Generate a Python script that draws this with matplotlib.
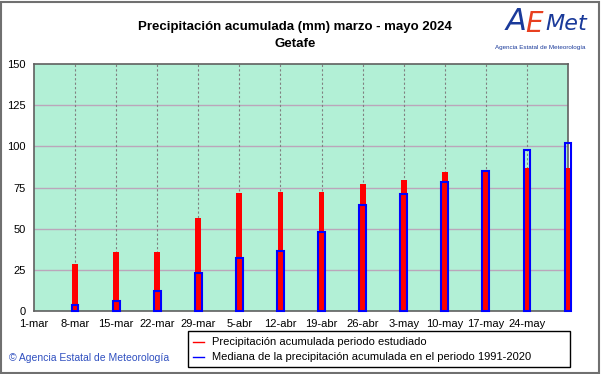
import matplotlib
matplotlib.use("Agg")
import matplotlib.pyplot as plt
from matplotlib.patches import Rectangle
import numpy as np

plt.rcParams['font.family'] = ['Liberation Sans', 'DejaVu Sans']

# Data
days = [7, 14, 21, 28, 35, 42, 49, 56, 63, 70, 77, 84, 91]  # days since 1-mar
precip = [28.4, 36.0, 36.0, 56.5, 71.5, 72.0, 72.0, 77.1, 79.5, 84.2, 85.0, 86.6, 86.6]
median = [3.8, 6.3, 12.3, 22.9, 32.4, 36.6, 48.2, 64.4, 71.0, 78.5, 84.8, 97.8, 102.0]
tick_days = [0, 7, 14, 21, 28, 35, 42, 49, 56, 63, 70, 77, 84]
tick_labels = ['1-mar', '8-mar', '15-mar', '22-mar', '29-mar', '5-abr', '12-abr',
               '19-abr', '26-abr', '3-may', '10-may', '17-may', '24-may']
yticks = [0, 25, 50, 75, 100, 125, 150]

W, H = 601, 374
fig = plt.figure(figsize=(W / 100, H / 100), dpi=100)
fig.patch.set_facecolor('white')

ax = fig.add_axes([34 / W, (H - 311) / H, (568 - 34) / W, (311 - 64) / H])
ax.set_facecolor('#b2f0d6')
ax.set_xlim(0, 91)
ax.set_ylim(0, 150)

red = ax.bar(days, precip, width=1.0, color='#ff0000', edgecolor='none', zorder=3)
blue = ax.bar(days, median, width=1.15, facecolor='none', edgecolor='#0000ff', linewidth=1.5, zorder=4)
for p in list(red) + list(blue):
    p.set_clip_on(False)

ax.set_yticks(yticks)
ax.set_xticks(tick_days)
ax.set_xticklabels(tick_labels)
ax.tick_params(axis='x', length=0, labelsize=8, colors='black', pad=6)
ax.tick_params(axis='y', length=0, labelsize=8, colors='black', pad=6)

for y in yticks[1:-1]:
    ax.axhline(y, color='#bba6bb', linewidth=1.0, zorder=1)
for d in tick_days[1:]:
    ax.axvline(d, color='#808080', linewidth=0.8, linestyle=(0, (2, 2)), zorder=1)

for s in ax.spines.values():
    s.set_color('#606060')
    s.set_linewidth(1.2)

# Title
fig.text(295 / W, 1 - 27 / H, 'Precipitación acumulada (mm) marzo - mayo 2024',
         ha='center', va='center', fontsize=9.5, fontweight='bold')
fig.text(295 / W, 1 - 44 / H, 'Getafe', ha='center', va='center', fontsize=9.5, fontweight='bold')

# Logo approximation
fig.text(516 / W, 1 - 22 / H, 'A', ha='center', va='center', fontsize=22,
         color='#1a3a9a', style='italic', family='DejaVu Sans')
fig.text(534 / W, 1 - 24 / H, 'E', ha='center', va='center', fontsize=20,
         color='#e84020', style='italic', family='DejaVu Sans')
fig.text(566 / W, 1 - 24 / H, 'Met', ha='center', va='center', fontsize=16,
         color='#1a3a9a', style='italic', family='DejaVu Sans')
fig.text(540 / W, 1 - 48 / H, 'Agencia Estatal de Meteorología', ha='center', va='center',
         fontsize=4.5, color='#1a3a9a')

# Legend box
lx0, lx1, ly0, ly1 = 188, 570, 331, 367
fig.patches.append(Rectangle((lx0 / W, 1 - ly1 / H), (lx1 - lx0) / W, (ly1 - ly0) / H,
                             transform=fig.transFigure, facecolor='white',
                             edgecolor='black', linewidth=1.0))
fig.lines.append(plt.Line2D([193 / W, 204 / W], [1 - 342 / H] * 2, color='#ff0000',
                            linewidth=1.0, transform=fig.transFigure))
fig.lines.append(plt.Line2D([193 / W, 204 / W], [1 - 357 / H] * 2, color='#0000ff',
                            linewidth=1.0, transform=fig.transFigure))
fig.text(212 / W, 1 - 342 / H, 'Precipitación acumulada periodo estudiado', ha='left',
         va='center', fontsize=8)
fig.text(212 / W, 1 - 357 / H, 'Mediana de la precipitación acumulada en el periodo 1991-2020',
         ha='left', va='center', fontsize=8)

# Copyright
fig.text(9 / W, 1 - 358 / H, '© Agencia Estatal de Meteorología', ha='left', va='center',
         fontsize=7.5, color='#3050c0')

# Figure border
fig.patches.append(Rectangle((1 / W, 1 / H), (W - 3) / W, (H - 3) / H, transform=fig.transFigure,
                             facecolor='none', edgecolor='#707070', linewidth=1.5))

fig.savefig('out.png', dpi=100)
